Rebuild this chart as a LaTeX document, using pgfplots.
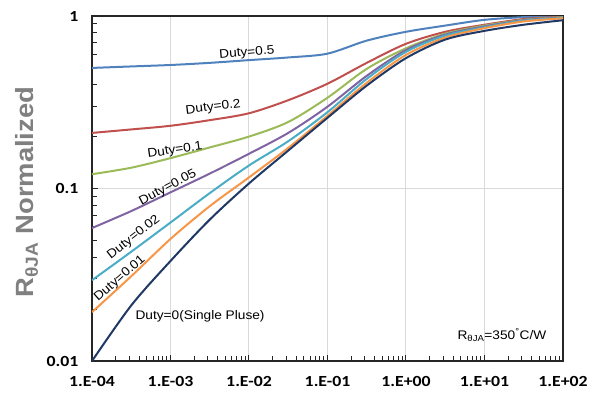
\documentclass[border=0pt]{standalone}
\usepackage{fontspec}
\setmainfont{Liberation Sans}[FakeStretch=1.1]
\newfontfamily\tickfont{Carlito}[FakeStretch=1.15]
\usepackage{pgfplots}
\pgfplotsset{compat=1.18}
\definecolor{cBlue}{HTML}{4F81BD}
\definecolor{cRed}{HTML}{C0504D}
\definecolor{cGreen}{HTML}{9BBB59}
\definecolor{cPurple}{HTML}{8064A2}
\definecolor{cCyan}{HTML}{4BACC6}
\definecolor{cOrange}{HTML}{F79646}
\definecolor{cNavy}{HTML}{203864}
\definecolor{cGrid}{HTML}{D9D9D9}
\definecolor{cLab}{HTML}{808080}
\begin{document}
\begin{tikzpicture}
\path[use as bounding box] (-92bp,-38bp) rectangle (503bp,361bp);
\begin{axis}[
  at={(0,0)}, anchor=south west,
  scale only axis, width=471bp, height=345bp,
  xmode=log, ymode=log,
  xmin=1e-4, xmax=1e2, ymin=0.01, ymax=1,
  xtick={1e-4,1e-3,1e-2,1e-1,1,10,100},
  xticklabels={1.E-04,1.E-03,1.E-02,1.E-01,1.E+00,1.E+01,1.E+02},
  ytick={0.01,0.1,1},
  yticklabels={0.01,0.1,1},
  tick pos=left, tick align=inside,
  major tick length=6bp, minor tick length=5bp,
  every tick/.style={line width=1bp, color=black!85},
  xmajorgrids, ymajorgrids,
  major grid style={cGrid, line width=1bp},
  axis line style={black!85, line width=1.5bp},
  ticklabel style={font=\tickfont\bfseries\fontsize{15.5}{15.5}\selectfont},
  xticklabel style={yshift=-12bp},
  yticklabel style={xshift=-10bp},
  ylabel={R\textsubscript{θJA} Normalized},
  ylabel style={at={(axis description cs:-0.138,0.49)}, anchor=center, font=\bfseries\fontsize{25}{25}\selectfont, color=cLab},
  clip=true,
]
\addplot[cBlue, line width=2bp, smooth] coordinates {
(1e-4,0.50) (3.162e-4,0.51) (1e-3,0.52) (3.162e-3,0.535) (1e-2,0.555) (3.162e-2,0.575) (1e-1,0.605) (3.162e-1,0.72) (1,0.81) (3.162,0.88) (10,0.95) (31.62,0.985) (100,1.0)};
\addplot[cRed, line width=2bp, smooth] coordinates {
(1e-4,0.21) (3.162e-4,0.22) (1e-3,0.231) (3.162e-3,0.249) (1e-2,0.273) (3.162e-2,0.325) (1e-1,0.405) (3.162e-1,0.535) (1,0.69) (3.162,0.81) (10,0.89) (31.62,0.96) (100,0.99)};
\addplot[cGreen, line width=2bp, smooth] coordinates {
(1e-4,0.121) (3.162e-4,0.132) (1e-3,0.15) (3.162e-3,0.173) (1e-2,0.2) (3.162e-2,0.243) (1e-1,0.336) (3.162e-1,0.494) (1,0.65) (3.162,0.79) (10,0.88) (31.62,0.95) (100,0.985)};
\addplot[cPurple, line width=2bp, smooth] coordinates {
(1e-4,0.059) (3.162e-4,0.074) (1e-3,0.095) (3.162e-3,0.122) (1e-2,0.159) (3.162e-2,0.21) (1e-1,0.298) (3.162e-1,0.45) (1,0.635) (3.162,0.78) (10,0.87) (31.62,0.945) (100,0.98)};
\addplot[cCyan, line width=2bp, smooth] coordinates {
(1e-4,0.0294) (3.162e-4,0.043) (1e-3,0.0635) (3.162e-3,0.094) (1e-2,0.136) (3.162e-2,0.188) (1e-1,0.277) (3.162e-1,0.432) (1,0.62) (3.162,0.77) (10,0.86) (31.62,0.94) (100,0.975)};
\addplot[cOrange, line width=2bp, smooth] coordinates {
(1e-4,0.0192) (3.162e-4,0.031) (1e-3,0.051) (3.162e-3,0.079) (1e-2,0.116) (3.162e-2,0.172) (1e-1,0.264) (3.162e-1,0.41) (1,0.595) (3.162,0.75) (10,0.85) (31.62,0.93) (100,0.97)};
\addplot[cNavy, line width=2bp, smooth] coordinates {
(1e-4,0.01) (3.162e-4,0.021) (1e-3,0.038) (3.162e-3,0.066) (1e-2,0.107) (3.162e-2,0.166) (1e-1,0.257) (3.162e-1,0.395) (1,0.57) (3.162,0.73) (10,0.82) (31.62,0.89) (100,0.945)};
\begin{scope}[every node/.style={font=\fontsize{12.5}{12.5}\selectfont, inner sep=0pt}]
\node[rotate=5] at (axis cs:9.4e-3,0.61) {Duty=0.5};
\node[rotate=7] at (axis cs:3.5e-3,0.294) {Duty=0.2};
\node[rotate=8] at (axis cs:1.14e-3,0.166) {Duty=0.1};
\node[rotate=28] at (axis cs:9.3e-4,0.101) {Duty=0.05};
\node[rotate=38] at (axis cs:3.4e-4,0.052) {Duty=0.02};
\node[rotate=41] at (axis cs:2.27e-4,0.030) {Duty=0.01};
\node at (axis cs:2.38e-3,0.0182) {Duty=0(Single Pluse)};
\node[anchor=east] at (rel axis cs:0.965,0.075) {R\textsubscript{θJA}=350\textsuperscript{°}C/W};
\end{scope}
\end{axis}
\end{tikzpicture}
\end{document}
